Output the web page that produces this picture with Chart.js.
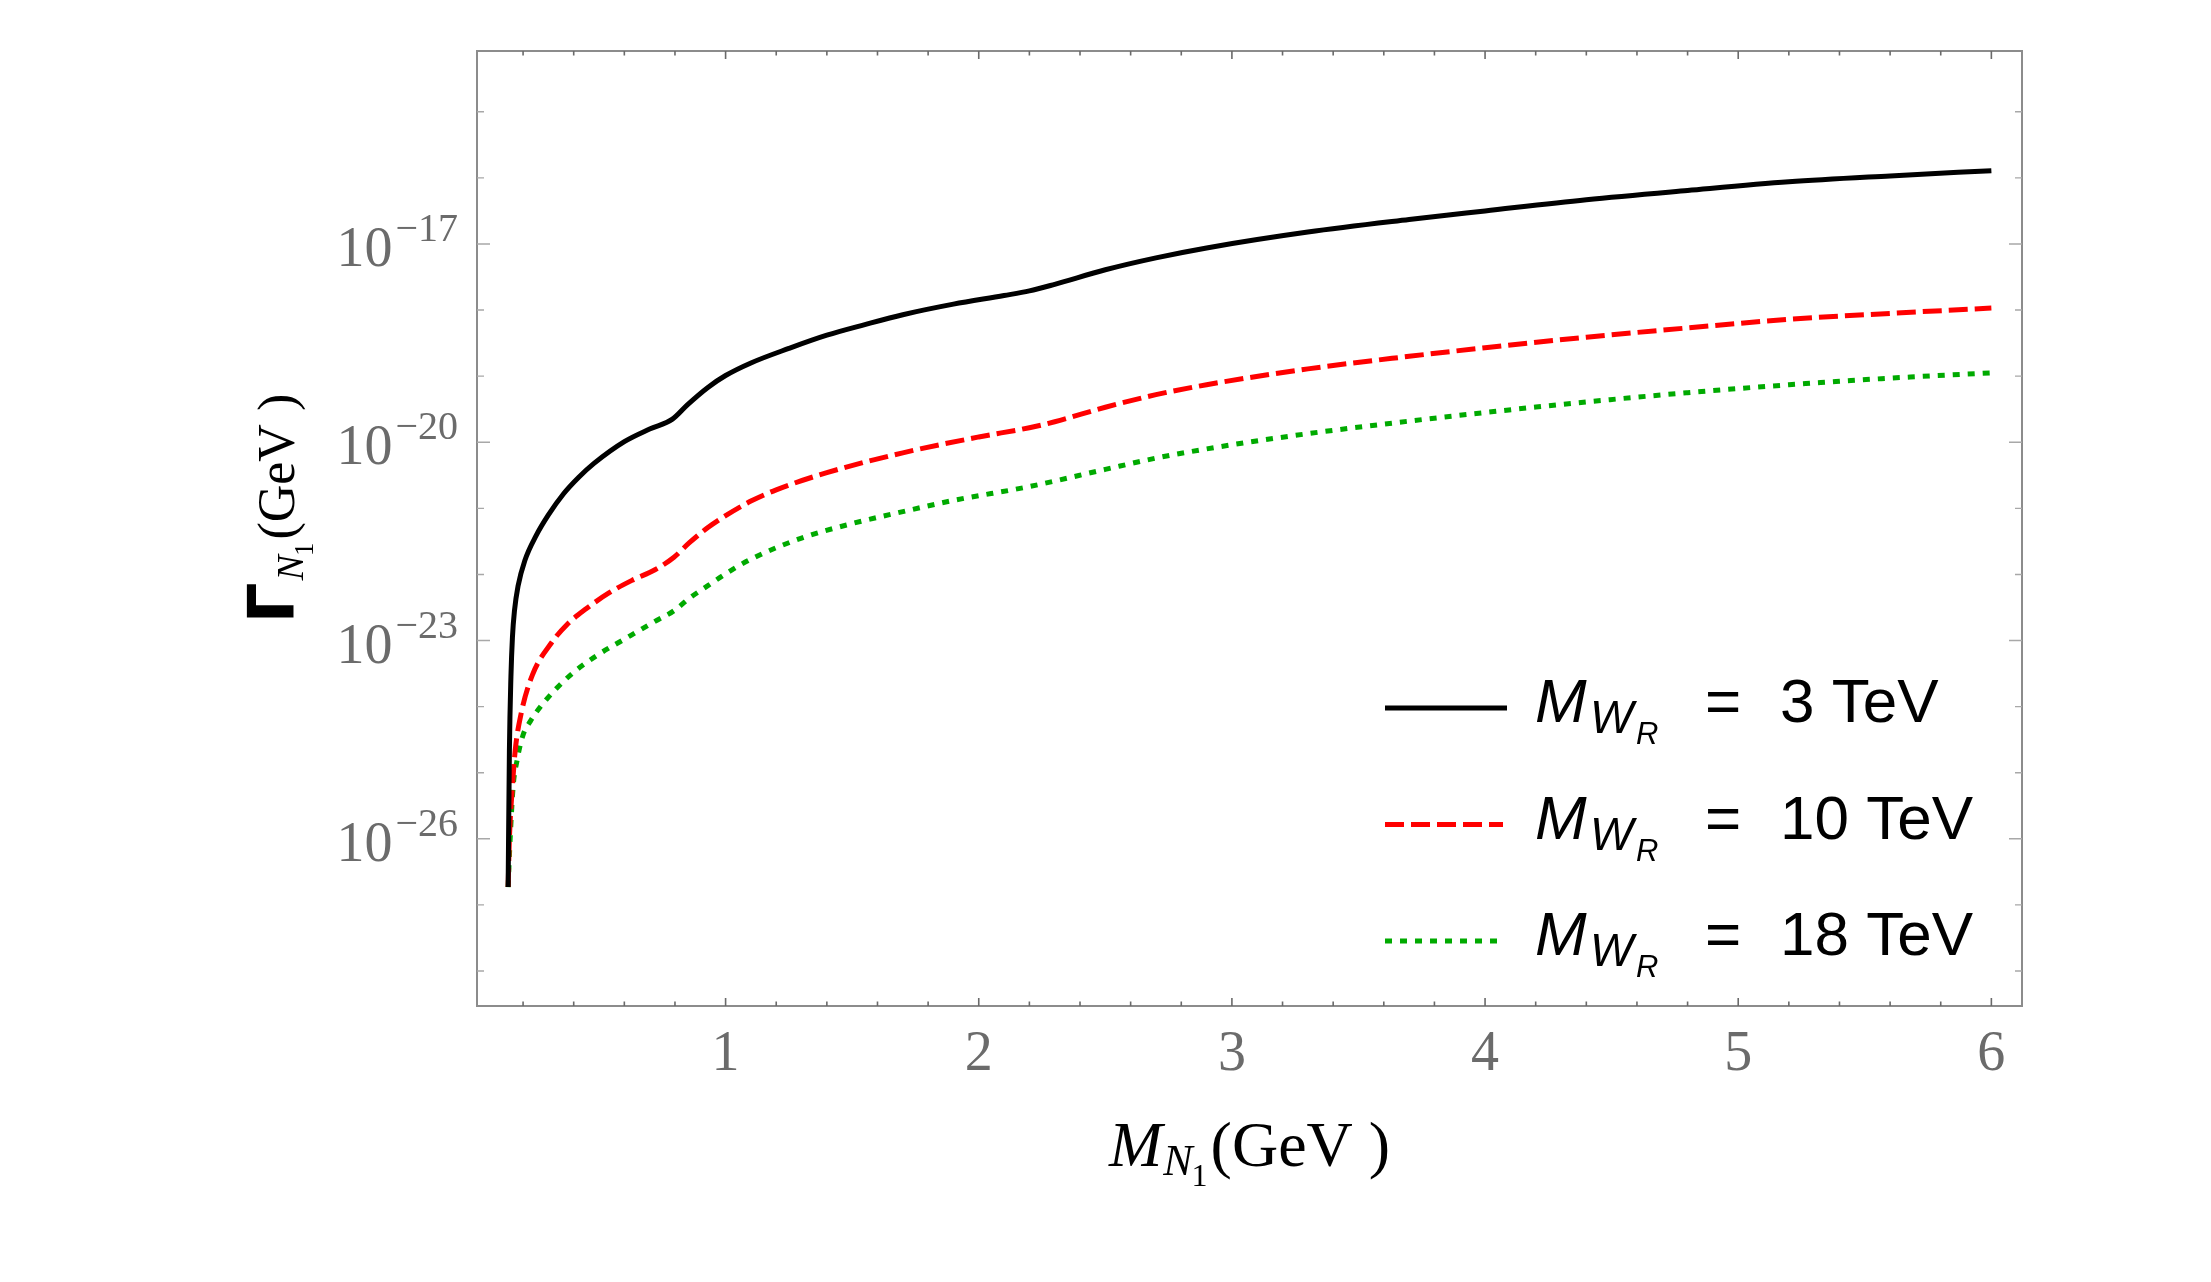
<!DOCTYPE html>
<html>
<head>
<meta charset="utf-8">
<title>Decay width of N1</title>
<script src="https://cdn.jsdelivr.net/npm/chart.js@4.4.1/dist/chart.umd.min.js"></script>
<style>
  html, body { margin: 0; padding: 0; background: #fff; }
  #wrap { width: 2211px; height: 1282px; }
</style>
</head>
<body>
<div id="wrap"><canvas id="widthChart" width="2211" height="1282"></canvas></div>
<script>
"use strict";

// values (M_N1 in GeV, width in GeV)
const mass3TeV = [0.141, 0.146, 0.152, 0.158, 0.166, 0.180, 0.207, 0.252, 0.30, 0.36, 0.42, 0.48, 0.60, 0.70, 0.79, 0.85,
	0.93, 1.00, 1.10, 1.25, 1.40, 1.55, 1.70, 1.90, 2.10, 2.20, 2.30, 2.50, 2.70, 2.90, 3.30, 3.70, 4.00, 4.40, 4.80, 5.20,
	5.60, 6.00];
const width3TeV = [1.862e-27, 2.188e-25, 2.818e-24, 1.122e-23, 2.818e-23, 6.607e-23, 1.622e-22, 3.890e-22, 7.943e-22,
	1.660e-21, 2.951e-21, 4.786e-21, 1.023e-20, 1.585e-20, 2.239e-20, 3.715e-20, 6.761e-20, 1.023e-19, 1.585e-19, 2.630e-19,
	4.169e-19, 6.026e-19, 8.511e-19, 1.230e-18, 1.660e-18, 1.950e-18, 2.455e-18, 4.074e-18, 6.166e-18, 8.710e-18, 1.514e-17,
	2.344e-17, 3.162e-17, 4.677e-17, 6.457e-17, 8.710e-17, 1.072e-16, 1.288e-16];

const mass10TeV = [0.141, 0.146, 0.158, 0.169, 0.192, 0.237, 0.313, 0.373, 0.449, 0.539, 0.63, 0.721, 0.796, 0.857, 0.93,
	1.00, 1.10, 1.20, 1.40, 1.70, 2.00, 2.20, 2.30, 2.50, 2.70, 2.90, 3.30, 3.70, 4.00, 4.40, 4.80, 5.20, 5.60, 6.00];
const width10TeV = [1.862e-27, 1.000e-26, 6.310e-26, 2.188e-25, 7.762e-25, 3.020e-24, 9.333e-24, 1.738e-23, 3.020e-23,
	5.248e-23, 8.128e-23, 1.175e-22, 1.820e-22, 3.020e-22, 5.129e-22, 7.762e-22, 1.288e-21, 1.905e-21, 3.467e-21, 6.918e-21,
	1.202e-20, 1.660e-20, 2.042e-20, 3.388e-20, 5.248e-20, 7.413e-20, 1.288e-19, 1.995e-19, 2.692e-19, 3.890e-19, 5.370e-19,
	7.244e-19, 8.913e-19, 1.072e-18];

const mass18TeV = [0.141, 0.149, 0.161, 0.176, 0.199, 0.229, 0.267, 0.328, 0.403, 0.494, 0.60, 0.721, 0.796, 0.857, 0.93,
	1.00, 1.10, 1.30, 1.50, 1.70, 1.90, 2.20, 2.50, 2.70, 2.90, 3.30, 3.70, 4.00, 4.40, 4.80, 5.20, 5.60, 6.00];
const width18TeV = [1.862e-27, 1.000e-26, 6.310e-26, 1.514e-25, 3.631e-25, 6.026e-25, 9.772e-25, 1.820e-24, 3.388e-24,
	6.026e-24, 1.047e-23, 1.950e-23, 2.818e-23, 4.365e-23, 6.761e-23, 1.023e-22, 1.698e-22, 3.548e-22, 5.888e-22, 8.913e-22,
	1.318e-21, 2.138e-21, 3.890e-21, 5.754e-21, 7.943e-21, 1.349e-20, 2.089e-20, 2.818e-20, 4.074e-20, 5.623e-20, 7.413e-20,
	9.333e-20, 1.122e-19];

const legendValues = ["3 TeV", "10 TeV", "18 TeV"];

const xTickLabels = [1, 2, 3, 4, 5, 6];
const xTicks = [0.2, 0.4, 0.6, 0.8, 1, 1.2, 1.4, 1.6, 1.8, 2, 2.2, 2.4, 2.6, 2.8, 3, 3.2, 3.4, 3.6, 3.8, 4,
	4.2, 4.4, 4.6, 4.8, 5, 5.2, 5.4, 5.6, 5.8, 6];
const yTickExponents = [-28, -27, -26, -25, -24, -23, -22, -21, -20, -19, -18, -17, -16, -15];
const yLabelExponents = [-26, -23, -20, -17];

const SERIF = '"Liberation Serif", "Times New Roman", serif';
const SANS = '"Liberation Sans", Arial, sans-serif';

function toPoints(xs, ys) {
	return xs.map((x, i) => ({ x: x, y: ys[i] }));
}

function runsWidth(ctx, runs) {
	let w = 0;
	runs.forEach(r => {
		ctx.font = r.font;
		w += ctx.measureText(r.text).width + (r.dx || 0);
	});
	return w;
}

function drawRuns(ctx, runs, x, y) {
	let cx = x;
	runs.forEach(r => {
		ctx.font = r.font;
		cx += (r.dx || 0);
		ctx.fillText(r.text, cx, y + (r.dy || 0));
		cx += ctx.measureText(r.text).width;
	});
}

const frameDecor = {
	id: "frameDecor",
	afterDraw(chart) {
		const ctx = chart.ctx;
		const area = chart.chartArea;
		const xs = chart.scales.x;
		const ys = chart.scales.y;
		ctx.save();

		// frame
		ctx.strokeStyle = "#8c8c8c";
		ctx.lineWidth = 2;
		ctx.strokeRect(area.left, area.top, area.right - area.left, area.bottom - area.top);

		// x ticks, bottom and top
		ctx.strokeStyle = "#6a6a6a";
		ctx.lineWidth = 1.6;
		xTicks.forEach(v => {
			const px = xs.getPixelForValue(v);
			const len = xTickLabels.includes(v) ? 8 : 4.5;
			ctx.beginPath();
			ctx.moveTo(px, area.bottom);
			ctx.lineTo(px, area.bottom - len);
			ctx.moveTo(px, area.top);
			ctx.lineTo(px, area.top + len);
			ctx.stroke();
		});

		// y ticks, left and right
		ctx.strokeStyle = "#a8a8a8";
		ctx.lineWidth = 1.4;
		yTickExponents.forEach(e => {
			const py = ys.getPixelForValue(Math.pow(10, e));
			const len = yLabelExponents.includes(e) ? 13 : 7;
			ctx.beginPath();
			ctx.moveTo(area.left, py);
			ctx.lineTo(area.left + len, py);
			ctx.moveTo(area.right, py);
			ctx.lineTo(area.right - len, py);
			ctx.stroke();
		});

		// tick labels
		ctx.fillStyle = "#6b6b6b";
		ctx.textBaseline = "alphabetic";
		ctx.textAlign = "center";
		ctx.font = "56px " + SERIF;
		xTickLabels.forEach(v => {
			ctx.fillText(String(v), xs.getPixelForValue(v), area.bottom + 64);
		});

		ctx.textAlign = "left";
		yLabelExponents.forEach(e => {
			const py = ys.getPixelForValue(Math.pow(10, e));
			const sup = "\u2212" + Math.abs(e);
			ctx.font = "40px " + SERIF;
			const supW = ctx.measureText(sup).width;
			ctx.font = "56px " + SERIF;
			const baseW = ctx.measureText("10").width;
			const right = area.left - 19;
			ctx.fillText("10", right - supW - 3 - baseW, py + 22);
			ctx.font = "40px " + SERIF;
			ctx.fillText(sup, right - supW, py - 3);
		});

		// axis titles
		ctx.fillStyle = "#000";
		const xTitle = [
			{ text: "M", font: "italic 64px " + SERIF },
			{ text: "N", font: "italic 44px " + SERIF, dy: 9, dx: 1 },
			{ text: "1", font: "32px " + SERIF, dy: 20, dx: -1 },
			{ text: "(GeV )", font: "64px " + SERIF, dx: 3 }
		];
		const xCenter = (area.left + area.right) / 2;
		drawRuns(ctx, xTitle, xCenter - runsWidth(ctx, xTitle) / 2, 1166);

		const yTitle = [
			{ text: "\u0393", font: "bold 64px \"DejaVu Sans\", sans-serif" },
			{ text: "N", font: "italic 38px " + SERIF, dy: 9, dx: 2 },
			{ text: "1", font: "27px " + SERIF, dy: 19, dx: -1 },
			{ text: "(GeV )", font: "52px " + SERIF, dx: 3 }
		];
		ctx.save();
		ctx.translate(294, (area.top + area.bottom) / 2 - 20);
		ctx.rotate(-Math.PI / 2);
		drawRuns(ctx, yTitle, -runsWidth(ctx, yTitle) / 2, 0);
		ctx.restore();

		// legend
		const rowBase = [722, 838.5, 955];
		chart.data.datasets.forEach((ds, i) => {
			const base = rowBase[i];
			ctx.strokeStyle = ds.borderColor;
			ctx.lineWidth = ds.borderWidth;
			ctx.lineCap = "butt";
			ctx.setLineDash(ds.borderDash || []);
			ctx.beginPath();
			ctx.moveTo(1385, base - 14);
			ctx.lineTo(i === 0 ? 1507 : 1503, base - 14);
			ctx.stroke();
			ctx.setLineDash([]);

			ctx.fillStyle = "#000";
			ctx.font = "italic 62px " + SANS;
			ctx.fillText("M", 1535, base);
			ctx.font = "italic 46px " + SANS;
			ctx.fillText("W", 1590, base + 11);
			ctx.font = "italic 31px " + SANS;
			ctx.fillText("R", 1636, base + 22);
			ctx.font = "62px " + SANS;
			ctx.fillText("=", 1705, base);
			ctx.fillText(legendValues[i], 1780, base);
		});

		ctx.restore();
	}
};

const chart = new Chart(document.querySelector("#widthChart").getContext("2d"), {
	type: "line",
	data: {
		datasets: [{
			label: "M_WR = 3 TeV",
			data: toPoints(mass3TeV, width3TeV),
			borderColor: "#000000",
			borderWidth: 5,
			pointRadius: 0,
			cubicInterpolationMode: "monotone"
		}, {
			label: "M_WR = 10 TeV",
			data: toPoints(mass10TeV, width10TeV),
			borderColor: "#ff0000",
			borderWidth: 5,
			borderDash: [19, 7],
			pointRadius: 0,
			cubicInterpolationMode: "monotone"
		}, {
			label: "M_WR = 18 TeV",
			data: toPoints(mass18TeV, width18TeV),
			borderColor: "#00aa00",
			borderWidth: 5,
			borderDash: [7, 8],
			pointRadius: 0,
			cubicInterpolationMode: "monotone"
		}]
	},
	options: {
		responsive: false,
		animation: false,
		events: [],
		layout: {
			padding: { left: 477, top: 51, right: 189, bottom: 276 }
		},
		plugins: {
			legend: { display: false },
			tooltip: { enabled: false }
		},
		scales: {
			x: {
				type: "linear",
				min: 0.018,
				max: 6.121,
				display: false
			},
			y: {
				type: "logarithmic",
				min: Math.pow(10, -28.53),
				max: Math.pow(10, -14.08),
				display: false
			}
		}
	},
	plugins: [frameDecor]
});
</script>
</body>
</html>
